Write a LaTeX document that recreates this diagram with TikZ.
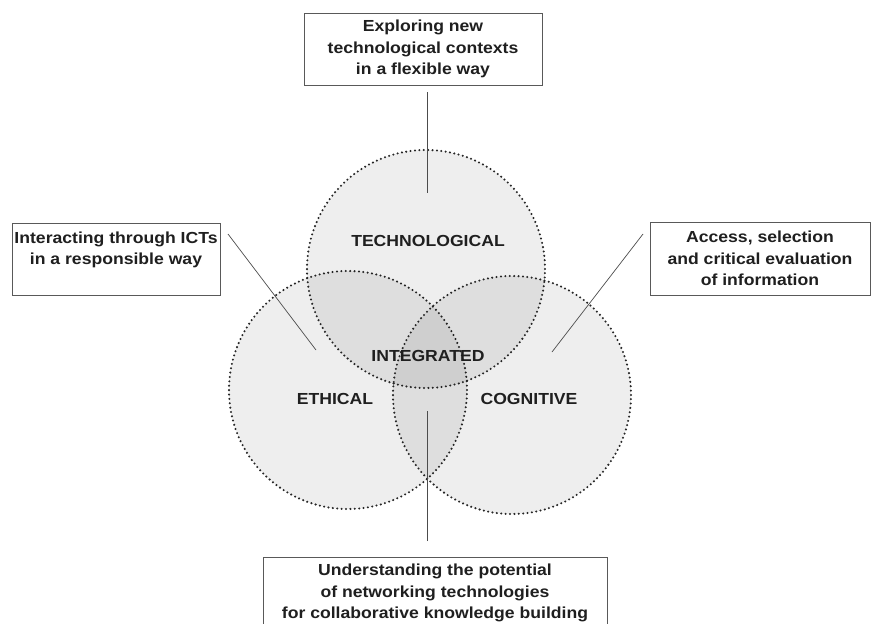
\documentclass[tikz,border=0pt]{standalone}
\usepackage{fontspec}
\setmainfont{Liberation Sans}[FakeStretch=1.1]
\usepackage{tikz}

\tikzset{
	area/.style={shape=circle, minimum size=238pt, inner sep=0pt,
		fill=black, fill opacity=0.065, draw=black!85, draw opacity=1,
		line width=2.3pt, dash pattern=on 0pt off 4.4pt, line cap=round},
	infobox/.style={shape=rectangle, draw=black!65, line width=0.8pt, fill=white,
		align=center, inner sep=2pt, text=black!88,
		font=\bfseries\fontsize{16}{21.5}\selectfont},
	areaname/.style={text=black!88, font=\bfseries\fontsize{16}{19}\selectfont},
	link/.style={draw=black!70, line width=0.7pt}
}

\begin{document}
\begin{tikzpicture}[x=1pt, y=-1pt]
	
	\useasboundingbox (0, 0) rectangle (871, 624);
	\clip (0, 0) rectangle (871, 624);
	
	\node[area] (eth)  at (348, 390) {};
	\node[area] (tech) at (426, 269) {};
	\node[area] (cog)  at (512, 395) {};
	
	\node[areaname] (techname) at (428, 241) {TECHNOLOGICAL};
	\node[areaname] (intname)  at (428, 356) {INTEGRATED};
	\node[areaname] (ethname)  at (335, 399) {ETHICAL};
	\node[areaname] (cogname)  at (529, 399) {COGNITIVE};
	
	\node[infobox, minimum width=238pt, minimum height=72pt] (explore)  at (423, 49)
		{Exploring new\\technological contexts\\in a flexible way};
	\node[infobox, minimum width=208pt, minimum height=72pt] (interact) at (116, 259)
		{Interacting through ICTs\\in a responsible way\\\mbox{}};
	\node[infobox, minimum width=220pt, minimum height=73pt] (access)   at (760, 258.5)
		{Access, selection\\and critical evaluation\\of information};
	\node[infobox, minimum width=344pt, minimum height=72pt] (network)  at (435, 593)
		{Understanding the potential\\of networking technologies\\for collaborative knowledge building};
	
	\coordinate (explore-a)  at (427, 92);
	\coordinate (explore-b)  at (427, 193);
	\coordinate (interact-a) at (228, 234);
	\coordinate (interact-b) at (316, 350);
	\coordinate (access-a)   at (643, 234);
	\coordinate (access-b)   at (552, 352);
	\coordinate (network-a)  at (427, 541);
	\coordinate (network-b)  at (427, 411);
	
	\path[link] (explore-a)  -- (explore-b);
	\path[link] (interact-a) -- (interact-b);
	\path[link] (access-a)   -- (access-b);
	\path[link] (network-a)  -- (network-b);
	
\end{tikzpicture}
\end{document}
